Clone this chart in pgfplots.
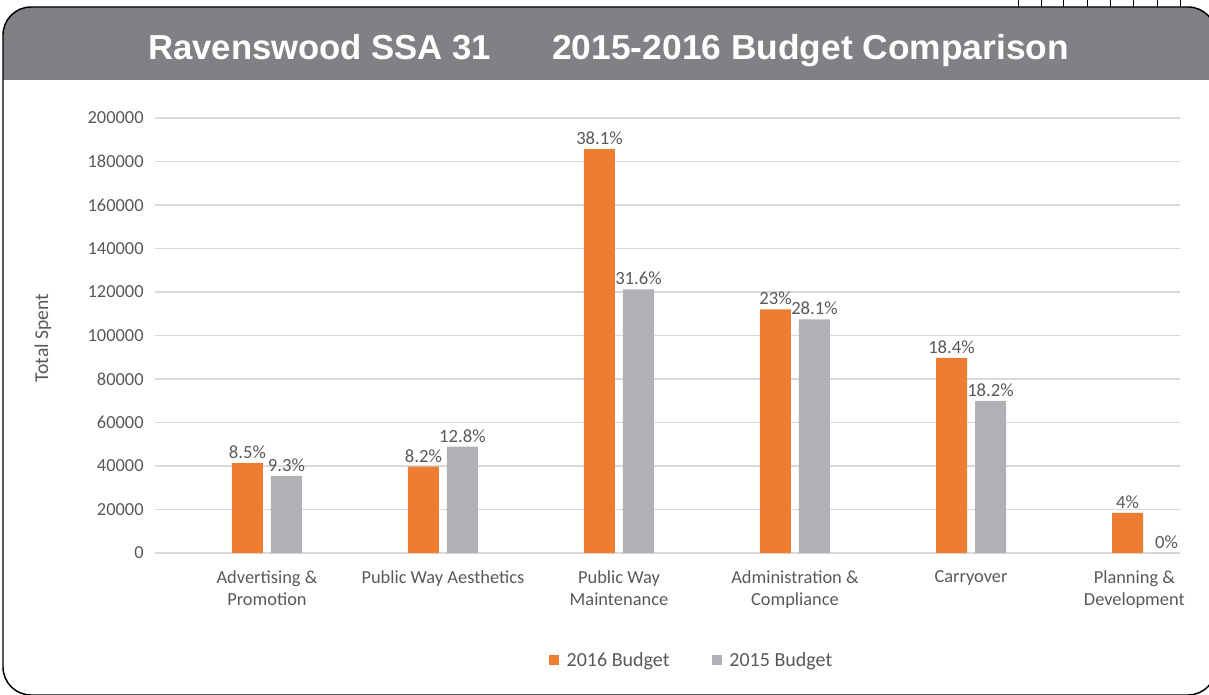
\documentclass[border=0pt]{standalone}
\usepackage{pgfplots}
\pgfplotsset{compat=1.18}
\usepackage{fontspec}
\setmainfont{Carlito}
\newfontfamily\titlefont{Liberation Sans}

\definecolor{orangebar}{RGB}{237,125,49}
\definecolor{graybar}{RGB}{176,177,180}
\definecolor{headgray}{RGB}{128,129,133}
\definecolor{txtgray}{RGB}{89,89,89}
\definecolor{gridgray}{RGB}{217,217,217}

\begin{document}
\begin{tikzpicture}[x=0.75pt,y=0.75pt]
\useasboundingbox (0,0) rectangle (1209,694);
\clip (0,0) rectangle (1209,694);

% little table strip at the top right
\foreach \xx in {1018,1041,1063,1087,1110,1133,1157,1180}
  \draw[line width=0.6pt] (\xx,694) -- (\xx,687);

% panel with grey header
\begin{scope}
  \clip[rounded corners=21pt] (3,-1) rectangle (1216,687);
  \fill[headgray] (0,614) rectangle (1220,690);
\end{scope}
\draw[line width=1.1pt,rounded corners=21pt] (3,-1) rectangle (1216,687);

\node[anchor=base west,inner sep=0pt,text=white,font=\titlefont\bfseries\fontsize{26}{30}\selectfont] at (148,634) {Ravenswood SSA 31};
\node[anchor=base west,inner sep=0pt,xscale=1.02,text=white,font=\titlefont\bfseries\fontsize{26}{30}\selectfont] at (552,634) {2015-2016 Budget Comparison};

\begin{axis}[
    at={(116.25pt,105.75pt)}, anchor=south west,
    scale only axis,
    width=768.75pt, height=326.25pt,
    ybar=6pt, bar width=23.25pt,
    xmin=-0.636, xmax=5.1875,
    ymin=0, ymax=200000,
    ytick={0,20000,...,200000},
    xtick={0,...,4},
    xticklabels={{Advertising \&\\Promotion},{Public Way Aesthetics},{Public Way\\Maintenance},{Administration \&\\Compliance},{Carryover}},
    extra x ticks={5},
    extra x tick labels={{Planning \&\\Development}},
    extra x tick style={xticklabel style={xshift=-9.5pt}},
    scaled y ticks=false,
    yticklabel={\pgfmathprintnumber[fixed,precision=0,1000 sep={},assume math mode=true]{\tick}},
    axis line style={draw=none},
    major tick length=0pt,
    ymajorgrids=true,
    grid style={gridgray, line width=0.9pt},
    tick label style={font=\fontsize{13.8}{16.5}\selectfont, text=txtgray},
    yticklabel style={xshift=-5pt},
    xticklabel style={align=center, yshift=-10pt},
    ylabel={Total Spent},
    every axis y label/.style={at={(axis description cs:-0.1093,0.494)}, rotate=90, anchor=center, font=\fontsize{14.7}{17}\selectfont, text=txtgray},
    nodes near coords,
    point meta=explicit symbolic,
    every node near coord/.append style={font=\fontsize{14}{16.5}\selectfont, text=txtgray, inner sep=3pt},
    legend style={draw=none, at={(0.524,-0.248)}, anchor=center, legend columns=2,
      font=\fontsize{15}{18}\selectfont, text=txtgray,
      /tikz/every even column/.append style={column sep=30pt}},
    legend image code/.code={\fill[#1,draw=none] (0pt,-3.2pt) rectangle (7.5pt,4.3pt);
      \path (0pt,0pt) -- (11pt,0pt);},
  ]
% 2016 Budget
\addplot[fill=orangebar, draw=none] coordinates {
  (0,41300) [8.5\%]
  (1,39700) [8.2\%]
  (2,185700) [38.1\%]
  (3,112000) [23\%]
  (4,89700) [18.4\%]
  (5,18400) [4\%]
};
% 2015 Budget
\addplot[fill=graybar, draw=none] coordinates {
  (0,35500) [9.3\%]
  (1,48900) [12.8\%]
  (2,121200) [31.6\%]
  (3,107400) [28.1\%]
  (4,69900) [18.2\%]
  (5,0) [0\%]
};
\legend{2016 Budget, 2015 Budget}
\end{axis}
\end{tikzpicture}
\end{document}
